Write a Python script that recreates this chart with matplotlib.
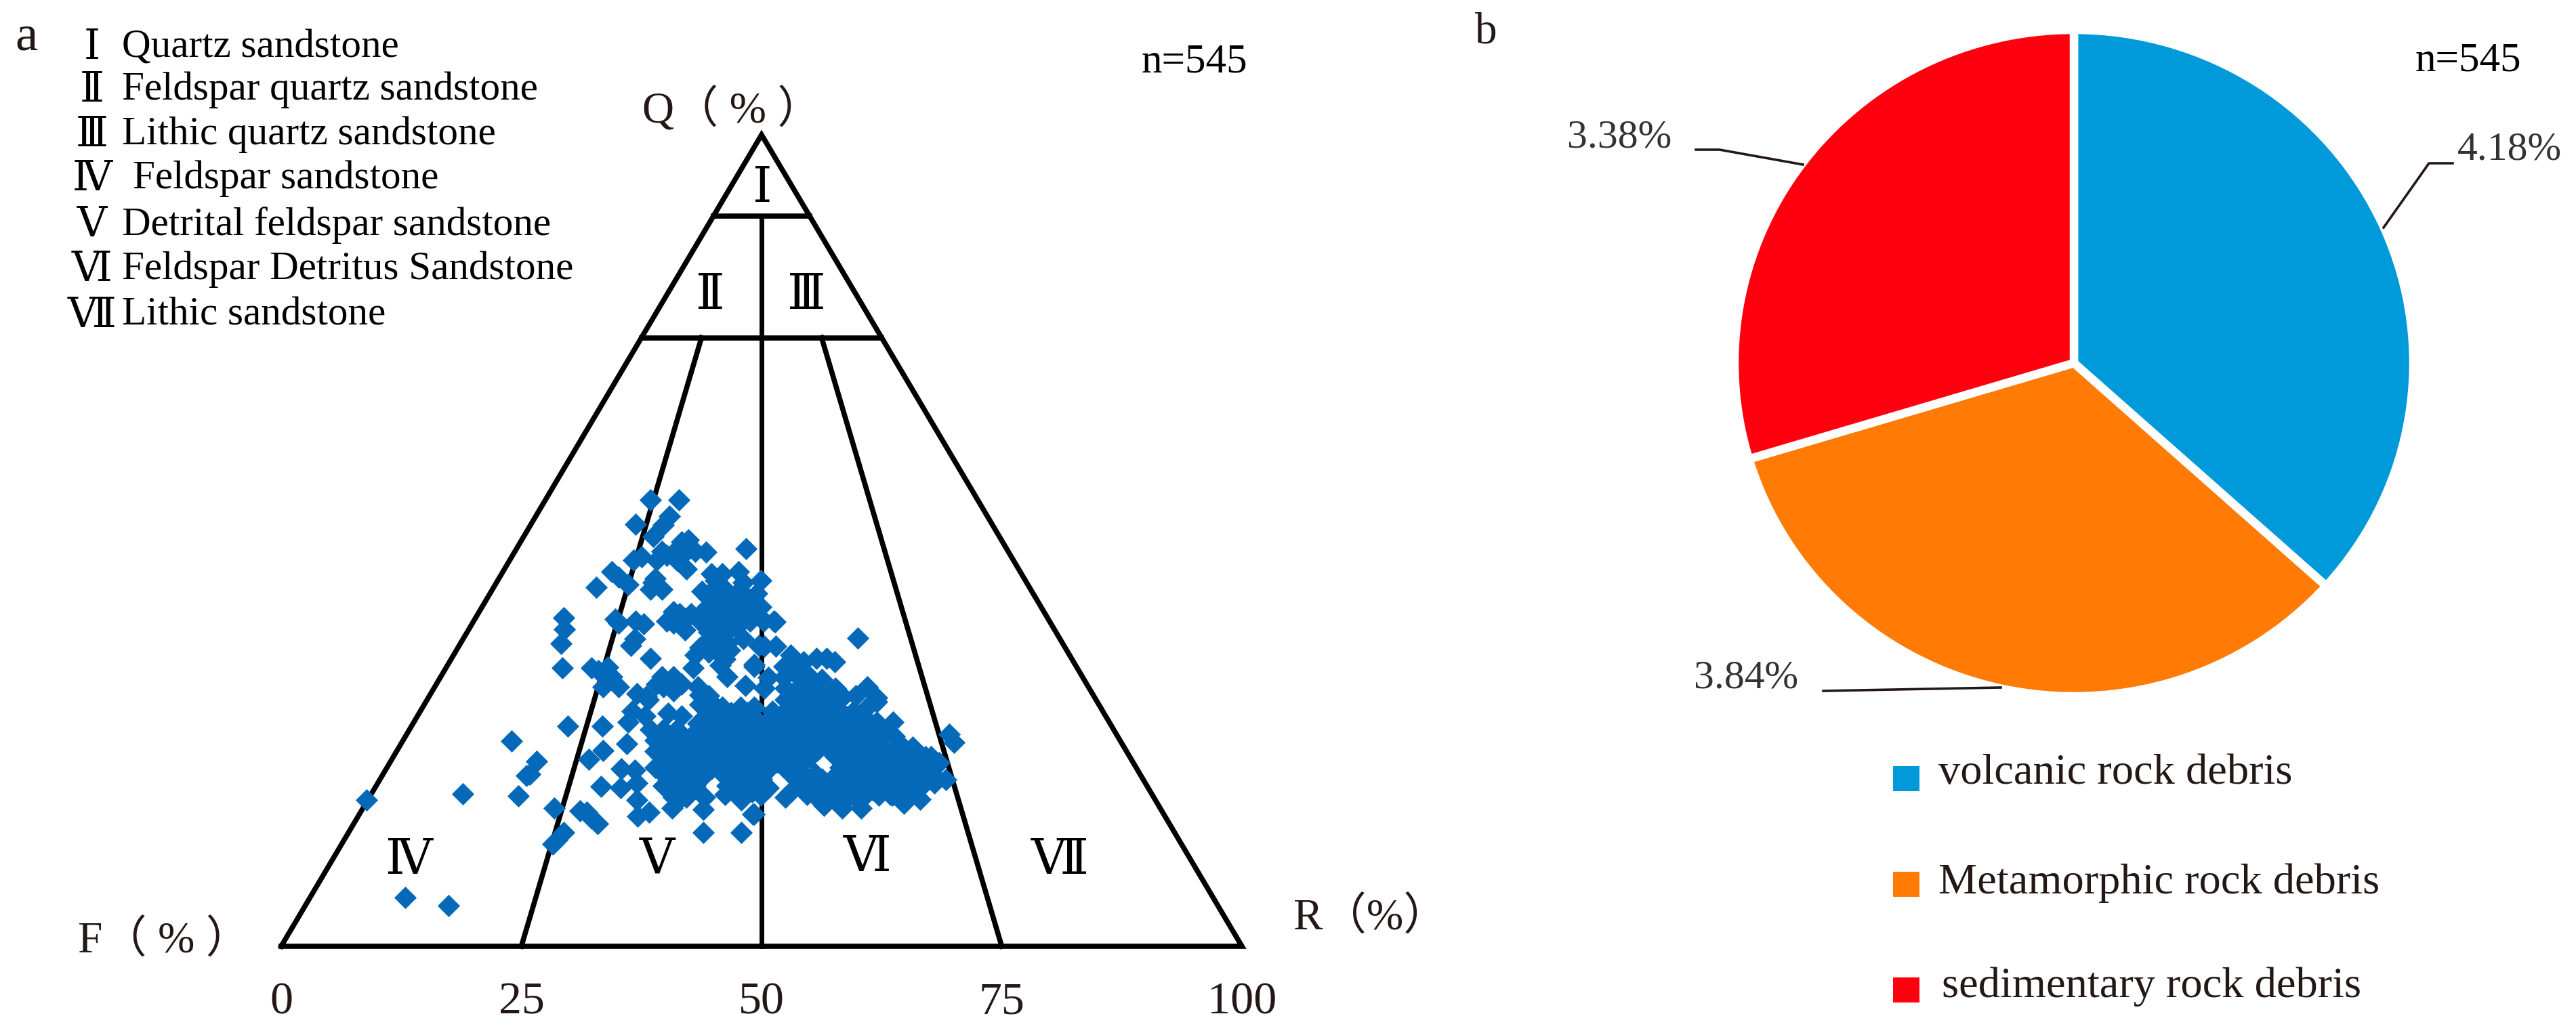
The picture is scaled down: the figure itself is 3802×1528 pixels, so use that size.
import matplotlib
matplotlib.use("Agg")
import matplotlib.pyplot as plt

plt.rcParams['font.family'] = ['Liberation Serif', 'Noto Sans CJK SC', 'DejaVu Sans']

W, H = 3802, 1528
DPI = 100

# ---- panel a data: x along the F-R base (%), Q height (%) ----
BASE_TICKS = [0, 25, 50, 75, 100]
CLASS_NAMES = ["Quartz sandstone", "Feldspar quartz sandstone", "Lithic quartz sandstone",
               "Feldspar sandstone", "Detrital feldspar sandstone",
               "Feldspar Detritus Sandstone", "Lithic sandstone"]
NUMERALS = ["Ⅰ", "Ⅱ", "Ⅲ", "Ⅳ", "Ⅴ", "Ⅵ", "Ⅶ"]

upper_pts = [
    (38.4,55.0),(41.4,55.0),(40.4,53.0),(39.8,51.9),(36.9,52.0),(38.7,50.5),(48.4,49.0),
    (36.7,47.6),(37.5,48.0),(39.6,48.7),(39.1,47.6),(40.8,48.5),(41.7,49.8),(42.4,50.1),
    (42.2,48.7),(43.1,48.7),(44.2,48.6),(41.2,47.6),(42.2,46.5),(40.1,48.2),(34.4,46.2),
    (35.1,45.5),(36.1,44.6),(38.9,45.3),(38.4,44.0),(39.6,44.0),(38.7,44.8),(32.8,44.2),
    (29.4,40.5),(29.5,39.1),(29.1,37.3),(29.3,34.3),(34.8,40.3),(35.1,39.8),(36.9,40.1),
    (37.7,39.7),(36.8,37.9),(36.4,37.1),(40.8,41.2),(40.1,40.1),(42.0,40.4),(42.0,39.0),
    (43.6,40.1),(40.8,39.8),(38.4,35.5),(32.3,34.3),(33.0,34.0),(34.0,34.4),(34.4,33.2),
    (33.5,32.0),(35.1,32.0),(44.8,45.9),(45.9,45.9),(47.6,46.2),(49.9,45.1),(44.8,43.7),
    (45.9,44.3),(47.4,43.5),(48.8,41.8),(49.9,41.8),(51.3,40.1),(44.5,42.9),(45.7,41.8),
    (47.1,41.8),(45.9,40.1),(44.8,39.8),(48.3,43.2),(49.5,43.5),(47.4,39.3),(48.8,40.1),
    (50.2,40.1),(45.7,38.2),(48.1,37.9),(46.7,36.5),(44.5,38.7),(43.6,36.8),(43.1,35.9),
    (45.7,36.8),(46.2,35.4),(45.7,34.6),(46.4,33.2),(42.9,34.3),(49.2,34.7),(48.3,32.1),
    (49.7,37.1),(40.8,33.2),(39.6,33.2),(39.1,32.3),(37.0,31.1),(38.0,30.8),(41.7,32.3),
    (40.8,31.5),(43.6,31.0),(44.5,30.4),
    (45.2,45.1),(48.1,44.8),(43.8,43.7),(45.2,42.6),(46.7,43.2),(47.8,42.6),(49.2,42.3),
    (44.1,41.5),(45.0,41.0),(46.7,40.7),(48.1,40.7),(49.5,40.9),(46.4,38.7),(47.6,40.1),
    (45.2,40.4),(43.4,40.4),(42.7,41.0),(41.5,41.0),(45.2,37.9),(46.4,37.3),(44.3,37.6),
    (44.5,36.2),(45.7,36.0),
]
lower_left_pts = [
    (38.2,30.4),(39.8,32.0),(41.2,32.3),(43.4,32.0),(44.5,30.9),(36.5,29.0),(37.9,28.4),
    (36.1,27.6),(40.3,28.7),(41.7,28.4),(43.6,29.8),(29.8,27.1),(33.4,27.1),(36.0,25.0),
    (33.5,24.1),(32.0,23.0),(26.6,22.8),(25.9,21.2),(35.4,21.9),(36.8,21.7),(33.3,19.7),
    (35.3,19.5),(37.0,20.1),(37.0,18.0),(38.3,16.5),(37.1,16.0),(40.7,17.0),(41.7,18.4),
    (39.8,19.8),(43.9,16.9),(46.2,18.7),(47.9,18.0),(49.1,16.3),(43.9,14.0),(47.9,14.0),
    (28.4,17.0),(31.1,16.7),(31.8,16.5),(32.3,15.8),(32.9,15.1),(29.4,14.0),(28.7,13.1),
    (28.3,12.6),(44.1,29.5),(45.9,29.5),(47.8,29.5),(49.2,29.5),(44.1,28.1),(45.7,28.1),
    (47.4,28.1),(49.0,28.1),(38.4,26.7),(39.8,26.7),(41.2,26.7),(44.3,26.7),(45.9,26.7),
    (47.6,26.7),(49.2,26.7),(42.7,25.9),(38.9,25.4),(40.3,25.4),(41.7,25.4),(43.1,25.4),
    (44.5,25.4),(45.9,25.4),(47.4,25.4),(48.8,25.4),(38.9,24.0),(40.3,24.0),(41.7,24.0),
    (43.1,24.0),(44.5,24.0),(45.9,24.0),(47.4,24.0),(48.8,24.0),(39.6,22.6),(42.7,22.6),
    (44.1,22.6),(45.5,22.6),(46.9,22.6),(48.3,22.6),(49.5,22.6),(40.3,21.9),(39.8,21.2),
    (41.2,21.2),(42.7,21.2),(44.1,21.2),(46.0,21.2),(47.4,21.2),(48.8,21.2),(40.1,19.8),
    (41.7,19.8),(43.1,19.8),(46.4,19.8),(48.3,19.8),(49.5,19.8),(40.8,18.4),(42.2,18.4),
    (44.1,18.4),
    (39.6,24.7),(41.0,24.7),(42.4,24.7),(43.8,24.7),(45.2,24.7),(46.6,24.7),(48.1,24.7),
    (49.5,24.7),(39.6,23.3),(41.0,23.3),(42.4,23.3),(43.8,23.3),(45.2,23.3),(46.6,23.3),
    (48.1,23.3),(49.5,23.3),(39.1,26.0),(40.5,26.0),(45.1,26.0),(46.7,26.0),(48.4,26.0),
    (49.9,26.0),(43.5,26.1),(45.1,27.4),(46.7,27.4),(48.4,27.4),(49.9,27.4),(43.4,27.5),
    (45.0,28.8),(46.8,28.8),(48.5,28.8),(42.0,22.0),(43.4,21.9),(44.8,21.9),(46.2,21.9),
    (47.6,21.9),(49.0,21.9),(38.9,22.0),(40.9,20.5),(42.4,20.5),(43.6,20.5),(47.3,20.5),
    (48.9,20.5),(49.9,20.5),(41.0,19.1),(42.7,19.1),(47.3,19.2),(49.0,19.0),(49.9,18.6),
]
right_pts = [
    (60.0,38.0),(51.4,40.0),(49.7,40.7),(50.3,37.0),(51.5,37.0),(49.2,34.5),(53.0,35.9),
    (54.4,35.1),(55.7,35.5),(56.8,35.5),(57.6,35.1),(52.3,34.5),(53.7,34.0),(56.3,32.9),
    (61.0,32.0),(62.0,30.6),(59.8,30.9),(58.4,30.9),(61.0,29.5),(62.0,30.1),(63.7,27.6),
    (63.8,25.9),(62.6,26.5),(61.0,27.9),(69.5,26.1),(70.0,25.1),(65.7,24.5),(67.1,23.4),
    (68.5,22.6),(69.2,20.5),(68.0,20.1),(66.5,18.1),(64.8,17.6),(63.4,18.7),(60.4,17.0),
    (58.4,17.0),(56.5,17.4),(54.7,18.7),(52.5,18.4),(50.7,19.5),(49.2,16.3),(53.0,19.0),
    (50.7,33.1),(52.3,33.1),(53.9,33.1),(55.1,33.1),(50.3,31.8),(52.5,31.8),(53.9,31.8),
    (55.4,31.8),(57.7,31.8),(52.5,30.4),(53.9,30.4),(55.4,30.4),(56.8,30.4),(58.2,30.4),
    (51.1,29.0),(52.5,29.0),(53.9,29.0),(55.4,29.0),(56.8,29.0),(58.2,29.0),(59.6,29.0),
    (49.7,27.6),(50.7,27.6),(52.1,27.6),(53.5,27.6),(54.9,27.6),(56.3,27.6),(57.7,27.6),
    (59.1,27.6),(60.5,27.6),(62.0,27.6),(50.9,26.2),(52.3,26.2),(53.7,26.2),(55.1,26.2),
    (56.5,26.2),(57.9,26.2),(59.4,26.2),(60.8,26.2),(62.2,26.2),(49.9,24.8),(50.9,24.8),
    (52.3,24.8),(53.7,24.8),(55.1,24.8),(56.5,24.8),(57.9,24.8),(59.4,24.8),(60.8,24.8),
    (62.2,24.8),(64.5,24.8),(50.9,23.4),(52.3,23.4),(53.7,23.4),(55.1,23.4),(57.7,23.4),
    (59.1,23.4),(60.5,23.4),(62.0,23.4),(63.4,23.4),(64.8,23.4),(66.2,23.4),(67.6,23.4),
    (49.9,22.0),(50.9,22.0),(52.3,22.0),(53.7,22.0),(58.2,22.0),(59.6,22.0),(61.0,22.0),
    (62.2,22.0),(63.8,22.0),(65.2,22.0),(66.6,22.0),(68.0,22.0),(50.0,20.6),(53.5,20.6),
    (54.9,20.6),(56.3,20.6),(57.7,20.6),(59.1,20.6),(60.5,20.6),(62.0,20.6),(63.4,20.6),
    (64.8,20.6),(66.2,20.6),(67.6,20.6),(57.2,19.3),(58.6,19.3),(60.0,19.3),(61.5,19.3),
    (62.9,19.3),(64.3,19.3),(65.7,19.3),(56.8,17.9),(58.2,17.9),(60.1,17.9),
    (53.2,31.1),(54.6,31.1),(56.1,31.1),(53.2,29.7),(54.6,29.7),(56.1,29.7),(57.5,29.7),
    (51.8,28.3),(53.2,28.3),(54.6,28.3),(56.1,28.3),(57.5,28.3),(58.9,28.3),(60.3,28.3),
    (51.4,26.9),(52.8,26.9),(54.2,26.9),(55.6,26.9),(57.0,26.9),(58.4,26.9),(59.8,26.9),
    (61.2,26.9),(50.2,25.5),(51.6,25.5),(53.0,25.5),(54.4,25.5),(55.8,25.5),(57.2,25.5),
    (58.6,25.5),(60.1,25.5),(61.5,25.5),(50.2,24.1),(51.6,24.1),(53.0,24.1),(54.4,24.1),
    (55.8,24.1),(57.2,24.1),(58.6,24.1),(60.1,24.1),(61.5,24.1),(63.0,24.1),(64.5,24.1),
    (50.2,22.7),(51.6,22.7),(53.0,22.7),(54.4,22.7),(58.9,22.7),(60.3,22.7),(61.6,22.7),
    (63.1,22.7),(64.5,22.7),(65.9,22.7),(67.3,22.7),(50.2,21.3),(53.0,21.3),(54.2,21.3),
    (55.6,21.3),(57.9,21.3),(59.3,21.3),(60.7,21.3),(62.1,21.3),(63.5,21.3),(64.9,21.3),
    (66.3,21.3),(67.7,21.3),(54.2,20.0),(55.6,20.0),(57.0,20.0),(58.4,20.0),(59.8,20.0),
    (61.2,20.0),(62.7,20.0),(64.1,20.0),(65.5,20.0),(66.9,20.0),(55.5,18.6),(57.5,18.6),
    (59.2,18.6),(60.8,18.6),(62.2,18.6),(63.6,18.6),(65.0,18.6),
]
outlier_pts = [(8.9,18.0),(18.9,18.8),(24.7,18.5),(25.5,21.0),(24.0,25.3),(12.9,6.0),(17.4,5.0)]

sample_pts = upper_pts + lower_left_pts + right_pts + outlier_pts
sample_x = [p[0] for p in sample_pts]
sample_q = [p[1] for p in sample_pts]

# ---- panel b data ----
PIE_NAMES = ["volcanic rock debris", "Metamorphic rock debris", "sedimentary rock debris"]
PIE_VALUES = [4.18, 3.84, 3.38]
PIE_COLORS = ["#0099D9", "#FF7B05", "#FF000F"]

NUMERAL_FONT = ['DejaVu Serif', 'Noto Sans CJK SC']


def text_px(ax, x, y, s, size, ha="left", va="center", color="#231815", **kw):
    return ax.text(x, y, s, fontsize=size, ha=ha, va=va, color=color, **kw)


fig = plt.figure(figsize=(W / DPI, H / DPI), dpi=DPI, facecolor="white")

# overlay in picture pixels, only for labels and decoration
overlay = fig.add_axes([0, 0, 1, 1], zorder=5)
overlay.set_xlim(0, W)
overlay.set_ylim(H, 0)
overlay.axis("off")
overlay.patch.set_alpha(0)

# ==========================================
# a. TERNARY-STYLE DIAGRAM
# ==========================================
ax_a = fig.add_axes([415 / W, (H - 1397) / H, 1418 / W, 1198 / H])
ax_a.set_xlim(0, 100)
ax_a.set_ylim(0, 100)
ax_a.patch.set_alpha(0)
for s in ax_a.spines.values():
    s.set_visible(False)
ax_a.set_yticks([])
ax_a.set_xticks(BASE_TICKS)
ax_a.set_xticklabels([str(t) for t in BASE_TICKS], fontsize=49, color="#231815")
ax_a.tick_params(axis="x", length=0, pad=38)

LW = 5.5
ax_a.plot([0, 50, 100, 0], [0, 100, 0, 0], color="black", lw=LW, clip_on=False, solid_joinstyle="miter")
ax_a.plot([45, 55], [90, 90], color="black", lw=LW, clip_on=False)
ax_a.plot([37.5, 62.5], [75, 75], color="black", lw=LW, clip_on=False)
ax_a.plot([50, 50], [0, 90], color="black", lw=5, clip_on=False)
ax_a.plot([25, 43.75], [0, 75], color="black", lw=LW, clip_on=False)
ax_a.plot([75, 56.25], [0, 75], color="black", lw=LW, clip_on=False)

ax_a.scatter(sample_x, sample_q, marker="D", s=285, color="#0569BA", linewidths=0, zorder=3, clip_on=False)

region_pos = [(1125, 278), (1048, 436), (1190, 436), (604, 1270), (970, 1270), (1280, 1266), (1564, 1270)]
for (x, y), n in zip(region_pos, NUMERALS):
    text_px(overlay, x, y, n, 52, ha="center", color="black", family=NUMERAL_FONT)

text_px(overlay, 22, 56, "a", 54)
label_y = [70, 133, 199, 264, 332, 398, 466]
label_x = [180, 180, 180, 196, 180, 180, 180]
for y, x, n, name in zip(label_y, label_x, NUMERALS, CLASS_NAMES):
    text_px(overlay, 136, y, n, 44, ha="center", color="black", family=NUMERAL_FONT)
    text_px(overlay, x, y, name, 42.6, color="black")

text_px(overlay, 1685, 92, "n=545", 44, color="black")
text_px(overlay, 948, 162, "Q（ % ）", 47)
text_px(overlay, 115, 1390, "F（ % ）", 47)
text_px(overlay, 1908, 1356, "R（%）", 47)

# ==========================================
# b. PIE
# ==========================================
cx, cy, rx, ry = 3061, 536, 501, 492
ax_b = fig.add_axes([(cx - rx) / W, (H - cy - ry) / H, 2 * rx / W, 2 * ry / H])
ax_b.pie(PIE_VALUES, colors=PIE_COLORS, startangle=90, counterclock=False, radius=1,
         wedgeprops={"edgecolor": "white", "linewidth": 9})
ax_b.set_aspect("auto")
ax_b.set_xlim(-1, 1)
ax_b.set_ylim(-1, 1)

leaders = [
    ([3518, 3585, 3620], [336, 241, 241]),
    ([2661, 2538, 2503], [243, 221, 221]),
    ([2953, 2691], [1015, 1020]),
]
for xs, ys in leaders:
    overlay.plot(xs, ys, color="#231815", lw=2.6)

text_px(overlay, 3704, 222, f"{PIE_VALUES[0]:.2f}%", 43, ha="center", color="#333333")
text_px(overlay, 2577, 1002, f"{PIE_VALUES[1]:.2f}%", 43, ha="center", color="#333333")
text_px(overlay, 2390, 203, f"{PIE_VALUES[2]:.2f}%", 43, ha="center", color="#333333")
text_px(overlay, 2177, 48, "b", 47)
text_px(overlay, 3565, 90, "n=545", 44, color="black")

swatch_y = [1131, 1287, 1443]
name_y = [1142, 1304, 1457]
name_x = [2861, 2861, 2866]
for sy, ny, nx, c, name in zip(swatch_y, name_y, name_x, PIE_COLORS, PIE_NAMES):
    overlay.add_patch(plt.Rectangle((2794, sy), 39, 37, facecolor=c, edgecolor="none"))
    text_px(overlay, nx, ny, name, 46.4)

fig.savefig("out.png", dpi=DPI, facecolor="white")
